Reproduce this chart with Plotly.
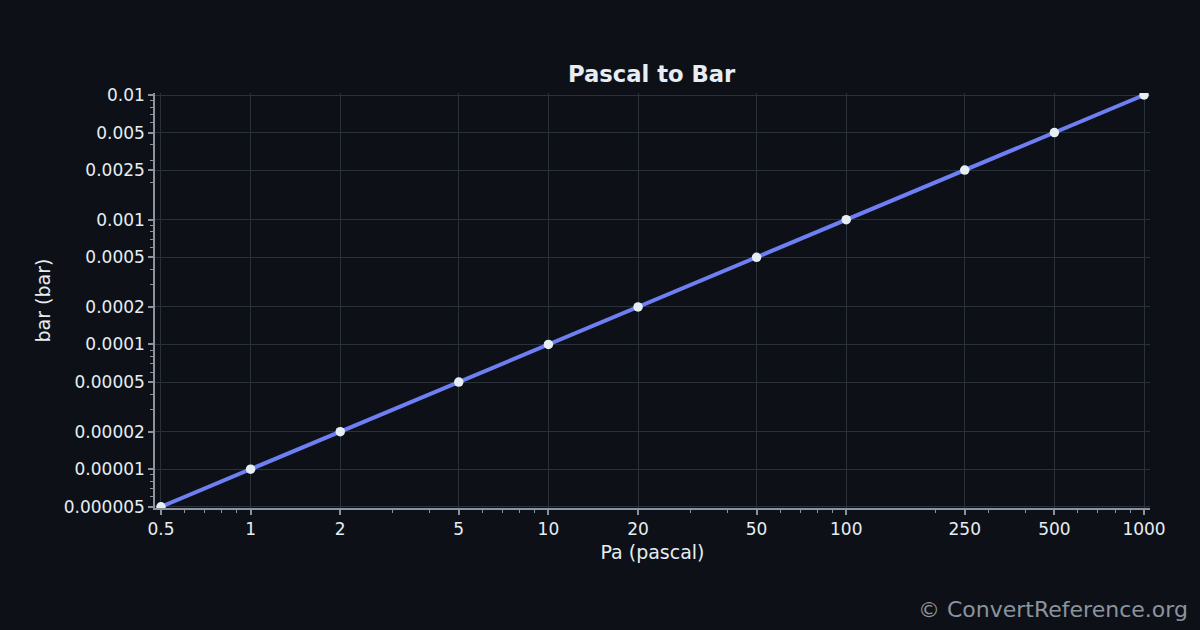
import plotly.graph_objects as go

# Pa -> bar reference points
pascal = [0.5, 1, 2, 5, 10, 20, 50, 100, 250, 500, 1000]
bar = [0.000005, 0.00001, 0.00002, 0.00005, 0.0001, 0.0002, 0.0005, 0.001, 0.0025, 0.005, 0.01]

x_ticks = [0.5, 1, 2, 5, 10, 20, 50, 100, 250, 500, 1000]
x_labels = ["0.5", "1", "2", "5", "10", "20", "50", "100", "250", "500", "1000"]
y_ticks = [0.000005, 0.00001, 0.00002, 0.00005, 0.0001, 0.0002, 0.0005, 0.001, 0.0025, 0.005, 0.01]
y_labels = ["0.000005", "0.00001", "0.00002", "0.00005", "0.0001", "0.0002",
            "0.0005", "0.001", "0.0025", "0.005", "0.01"]

BG = "#0d1117"
FG = "#e6edf3"
GRID = "#29313b"
AXIS = "#8b949e"

fig = go.Figure()
fig.add_trace(go.Scatter(
    x=pascal, y=bar, mode="lines+markers",
    line=dict(color="#6e7ff3", width=4),
    marker=dict(color="#e6edf3", size=9.5, line=dict(width=0)),
    showlegend=False,
))

axis_common = dict(
    type="log",
    showline=True, linecolor=AXIS, linewidth=1.5,
    ticks="outside", ticklen=5, tickcolor=AXIS, tickwidth=1.5,
    gridcolor=GRID, gridwidth=1,
    tickfont=dict(size=17, color=FG),
    zeroline=False,
    minor=dict(ticks="outside", ticklen=3, tickcolor=AXIS, tickwidth=1, dtick="D1", showgrid=False),
)

fig.update_xaxes(
    **axis_common,
    range=[-0.321, 3.02],
    tickvals=x_ticks, ticktext=x_labels,
    title=dict(text="Pa (pascal)", font=dict(size=19, color=FG), standoff=8),
)
fig.update_yaxes(
    **axis_common,
    range=[-5.311, -1.984],
    tickvals=y_ticks, ticktext=y_labels,
    title=dict(text="bar (bar)", font=dict(size=19, color=FG), standoff=8),
)

fig.update_layout(
    width=1200, height=630,
    paper_bgcolor=BG, plot_bgcolor=BG,
    font=dict(family="DejaVu Sans", color=FG),
    margin=dict(l=155, r=50, t=93, b=122),
    title=dict(text="<b>Pascal to Bar</b>", x=0.543, xanchor="center", y=0.883, yanchor="middle",
               font=dict(size=22.7, color=FG)),
    annotations=[dict(
        text="© ConvertReference.org", xref="paper", yref="paper",
        x=1.040, y=-0.245, xanchor="right", yanchor="middle", showarrow=False,
        font=dict(size=22, color="#8b949e"),
    )],
)

# drop the default page margin so the figure sits at the window's corner
fig.write_html("out.html", config={"displayModeBar": False},
               post_script="document.body.style.margin='0';")
